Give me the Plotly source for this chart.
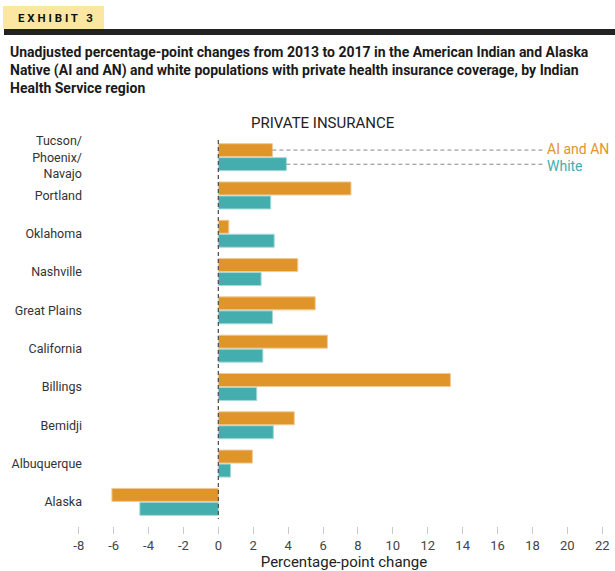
import plotly.graph_objects as go

regions = ["Tucson/<br>Phoenix/<br>Navajo", "Portland", "Oklahoma", "Nashville", "Great Plains",
           "California", "Billings", "Bemidji", "Albuquerque", "Alaska"]
ai_an = [3.1, 7.6, 0.6, 4.55, 5.55, 6.25, 13.3, 4.35, 1.95, -6.1]
white = [3.9, 3.0, 3.2, 2.45, 3.1, 2.55, 2.2, 3.15, 0.7, -4.5]
xticks = [-8, -6, -4, -2, 0, 2, 4, 6, 8, 10, 12, 14, 16, 18, 20, 22]
xticklabels = ["-8", "-6", "-4", "-2", "0", "2", "4", "6", "8", "10", "12", "14", "16", "18", "20", "22"]

ORANGE = "#E0952B"
TEAL = "#44ADAD"
FONT = "Roboto"

fig = go.Figure()
fig.add_trace(go.Bar(y=regions, x=ai_an, orientation="h", name="AI and AN",
                     marker=dict(color=ORANGE, line=dict(color="#F0C994", width=1))))
fig.add_trace(go.Bar(y=regions, x=white, orientation="h", name="White",
                     marker=dict(color=TEAL, line=dict(color="#A6D8D8", width=1))))

fig.update_layout(
    width=615, height=571,
    margin=dict(l=77, r=4, t=138, b=45),
    paper_bgcolor="white", plot_bgcolor="white",
    barmode="group", bargap=0.27, bargroupgap=0.07,
    showlegend=False,
    font=dict(family=FONT, color="#333333"),
    xaxis=dict(range=[-8.1, 22.5], tickvals=xticks, ticktext=xticklabels, automargin=False,
               showgrid=False, zeroline=False, showline=False,
               ticks="outside", ticklen=7, tickcolor="#c8c8c8", tickwidth=1,
               tickfont=dict(size=13, color="#444444"),
               title=dict(text="Percentage-point change", font=dict(size=15, color="#222222"), standoff=9)),
    yaxis=dict(categoryorder="array", categoryarray=regions, range=[9.63, -0.5], automargin=False,
               showgrid=False, zeroline=False, showline=False, ticks="",
               tickfont=dict(size=12.5, color="#333333"), ticklabelstandoff=-6),
)

# zero line
fig.add_shape(type="line", xref="x", yref="y", x0=0, x1=0, y0=-0.45, y1=9.45,
              line=dict(color="#555555", width=1.3, dash="4px,3px"))

# legend leader lines
fig.add_shape(type="line", xref="x", yref="y", x0=ai_an[0], x1=18.7, y0=-0.185, y1=-0.185,
              line=dict(color="#888888", width=1, dash="4px,3px"))
fig.add_shape(type="line", xref="x", yref="y", x0=white[0], x1=18.7, y0=0.185, y1=0.185,
              line=dict(color="#888888", width=1, dash="4px,3px"))
fig.add_annotation(xref="x", yref="y", x=18.72, y=-0.22, text="AI and AN", showarrow=False,
                   xanchor="left", yanchor="middle", font=dict(size=14, color=ORANGE, family=FONT))
fig.add_annotation(xref="x", yref="y", x=18.72, y=0.22, text="White", showarrow=False,
                   xanchor="left", yanchor="middle", font=dict(size=14, color=TEAL, family=FONT))

# panel title
fig.add_annotation(xref="paper", yref="paper", x=0.46, y=1.0, yanchor="bottom", yshift=4,
                   text="PRIVATE INSURANCE", showarrow=False,
                   font=dict(size=15, color="#222222", family=FONT))

# header
fig.add_shape(type="rect", xref="paper", yref="paper", x0=-74/534, x1=(104-77)/534,
              y0=1 + (138-29)/388, y1=1 + (138-6)/388, line=dict(width=0), fillcolor="#FCE7A2")
fig.add_shape(type="rect", xref="paper", yref="paper", x0=-73/534, x1=1.01,
              y0=1 + (138-35)/388, y1=1 + (138-29)/388, line=dict(width=0), fillcolor="#222222")
fig.add_annotation(xref="paper", yref="paper", x=-61/534, y=1 + (138-18)/388,
                   text="<b>E X H I B I T   3</b>", showarrow=False, xanchor="left", yanchor="middle",
                   font=dict(size=11.5, color="#111111", family=FONT))
fig.add_annotation(xref="paper", yref="paper", x=-69/534, y=1 + (138-42)/388,
                   text="<b>Unadjusted percentage-point changes from 2013 to 2017 in the American Indian and Alaska<br>"
                        "Native (AI and AN) and white populations with private health insurance coverage, by Indian<br>"
                        "Health Service region</b>",
                   showarrow=False, xanchor="left", yanchor="top", align="left",
                   font=dict(size=14, color="#1a1a1a", family=FONT))

fig.write_html("out.html", config={"displayModeBar": False},
               post_script="document.body.style.margin='0';")
